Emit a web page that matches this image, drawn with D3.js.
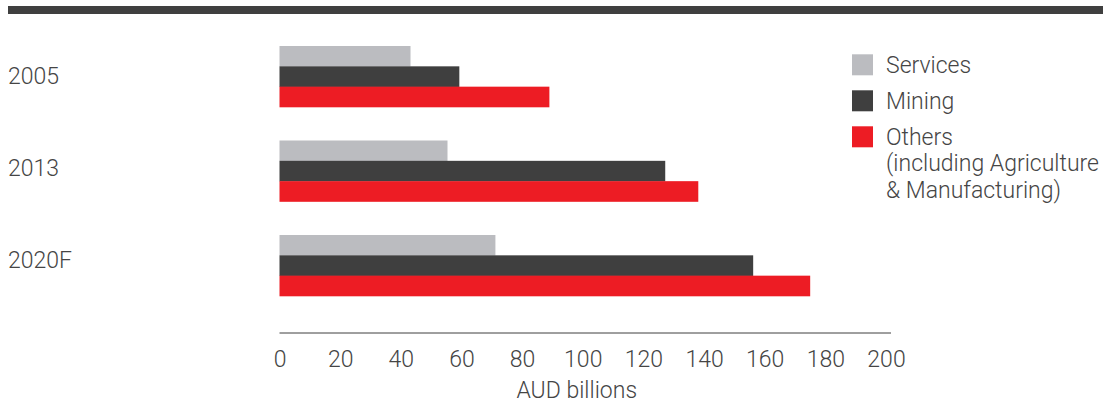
<!DOCTYPE html>
<html><head><meta charset="utf-8">
<script src="https://cdn.jsdelivr.net/npm/d3@7"></script>
<style>
html,body{margin:0;padding:0;background:#fff;}
svg{display:block;font-family:"Roboto","Liberation Sans",sans-serif;font-weight:300;}
</style></head>
<body>
<svg id="chart" width="1109" height="403"></svg>
<script>
const categories = ["2005", "2013", "2020F"];
const seriesNames = ["Services", "Mining", "Others"];
const services = [43.2, 55.4, 71.2];
const mining = [59.3, 127.2, 156.2];
const others = [89, 138.1, 175];
const tickValues = [0, 20, 40, 60, 80, 100, 120, 140, 160, 180, 200];
const legendLabels = [["Services"], ["Mining"], ["Others", "(including Agriculture", "& Manufacturing)"]];
const colors = ["#bbbcc0", "#3f3f3f", "#ed1c24"];

const seriesValues = [services, mining, others];
const svg = d3.select("#chart");
const textColor = "#454545";
const fs = 23;

// top rule
svg.append("rect").attr("x", 8).attr("y", 6).attr("width", 1095).attr("height", 8).attr("fill", "#3f3f3f");

const x = d3.scaleLinear().domain([0, 200]).range([279.5, 886]);
const y = d3.scaleBand().domain(categories).range([46, 296]).paddingInner(0.3545).paddingOuter(0);
const ySub = d3.scaleBand().domain(seriesNames).range([0, y.bandwidth()]).padding(0);
const yLabel = d3.scalePoint().domain(categories).range([84, 268.4]);

const data = [];
categories.forEach((c, i) => seriesNames.forEach((s, j) => data.push({c, s, v: seriesValues[j][i], j})));

svg.append("g").selectAll("rect").data(data).join("rect")
  .attr("x", x(0))
  .attr("y", d => y(d.c) + ySub(d.s))
  .attr("width", d => x(d.v) - x(0))
  .attr("height", ySub.bandwidth() + 0.3)
  .attr("fill", d => colors[d.j]);

// category labels
svg.append("g").selectAll("text").data(categories).join("text")
  .attr("x", 8)
  .attr("y", d => yLabel(d))
  .attr("font-size", fs)
  .attr("fill", textColor)
  .text(d => d);

// axis
const axis = d3.axisBottom(x).tickValues(tickValues).tickSize(0).tickPadding(17.5).tickFormat(d3.format("d"));
const gx = svg.append("g").attr("transform", "translate(0,333)").call(axis);
gx.select(".domain").remove();
gx.selectAll("text").attr("font-size", fs).attr("fill", textColor)
  .attr("font-family", "Roboto, 'Liberation Sans', sans-serif").attr("font-weight", 300);
svg.append("line").attr("x1", x(0)).attr("x2", x(200) + 5).attr("y1", 333).attr("y2", 333)
  .attr("stroke", "#3f3f3f").attr("stroke-width", 1);

svg.append("text").attr("x", (x(0) + x(200)) / 2 - 6).attr("y", 398)
  .attr("text-anchor", "middle")
  .attr("font-size", fs).attr("fill", textColor).text("AUD billions");

// legend
const legendY = d3.scalePoint().domain(seriesNames).range([54.3, 126.3]);
const lg = svg.append("g");
legendLabels.forEach((lines, i) => {
  const top = legendY(seriesNames[i]);
  lg.append("rect").attr("x", 852).attr("y", top).attr("width", 21).attr("height", 21).attr("fill", colors[i]);
  lines.forEach((t, k) => {
    lg.append("text").attr("x", 886).attr("y", top + 18.5 + k * 26.5)
      .attr("font-size", fs).attr("fill", textColor).text(t);
  });
});
</script>
</body></html>
